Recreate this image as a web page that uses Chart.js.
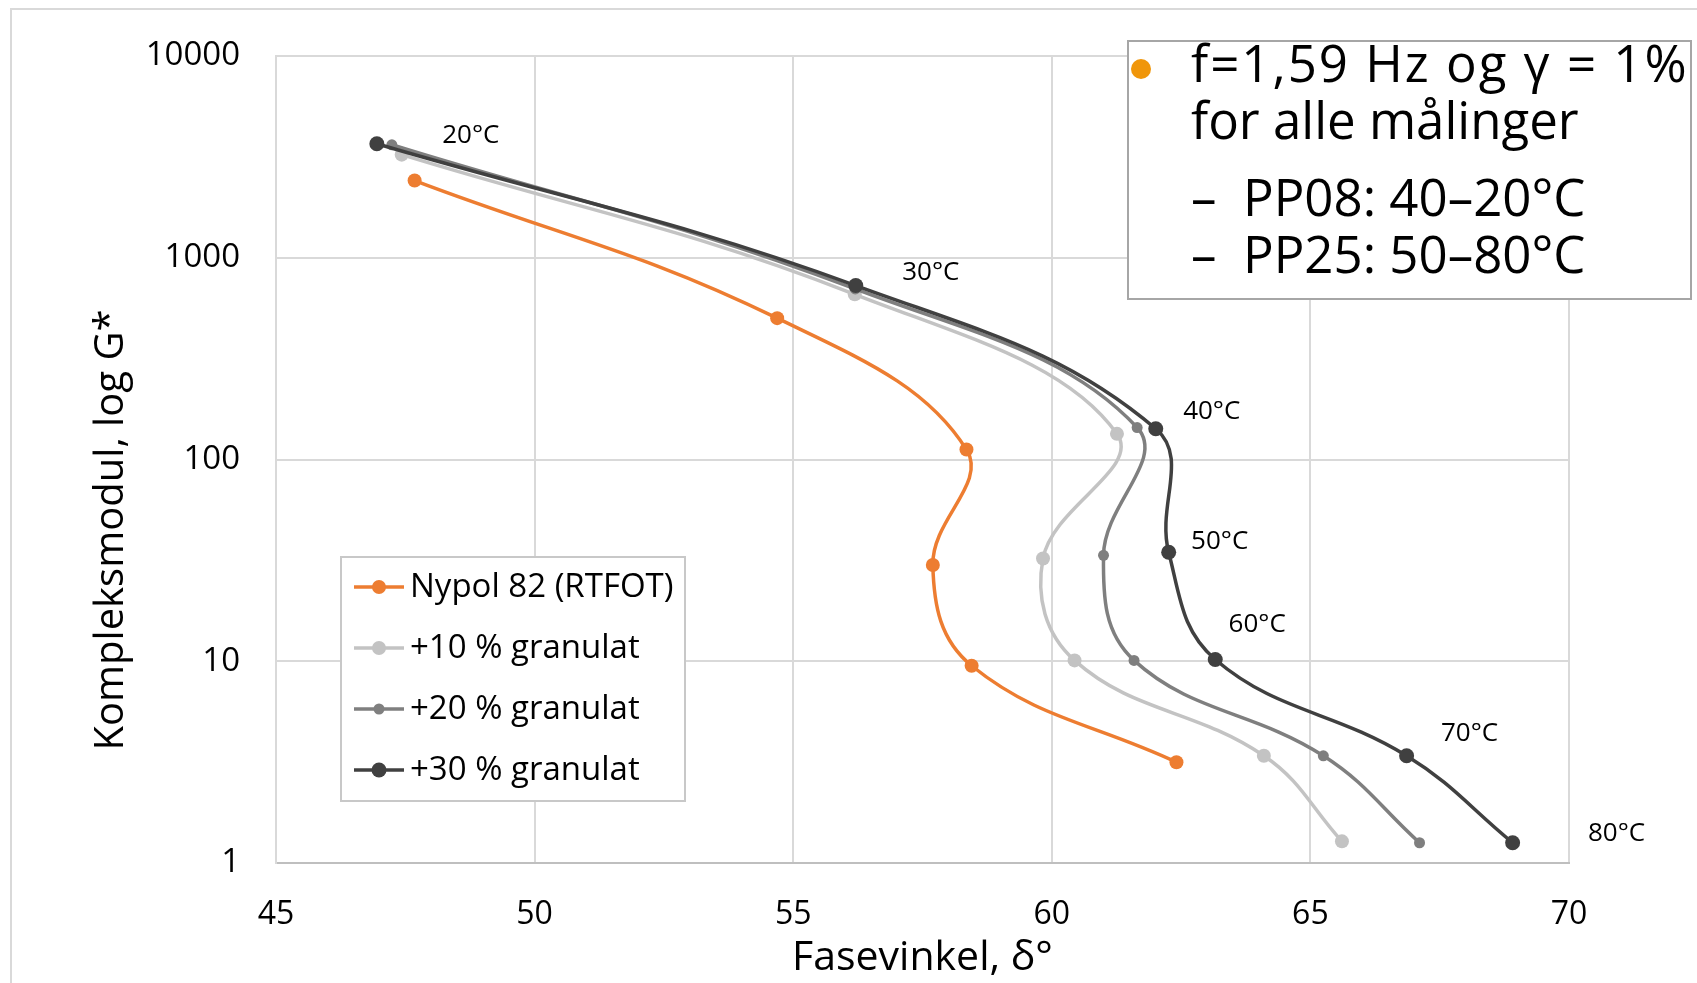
<!DOCTYPE html>
<html>
<head>
<meta charset="utf-8">
<script src="https://cdn.jsdelivr.net/npm/chart.js@4.4.1/dist/chart.umd.min.js"></script>
<style>
html, body { margin: 0; padding: 0; background: #fff; }
#wrap { width: 1697px; height: 983px; position: relative; }
</style>
</head>
<body>
<div id="wrap"><canvas id="dsrChart" width="1697" height="983"></canvas></div>
<script>
// data (phase angle in degrees, |G*| on log scale)
var temperatures = ["20°C", "30°C", "40°C", "50°C", "60°C", "70°C", "80°C"];
var seriesNames = ["Nypol 82 (RTFOT)", "+10 % granulat", "+20 % granulat", "+30 % granulat"];

var phaseNypol   = [47.68, 54.69, 58.35, 57.70, 58.45, 62.41];
var modulusNypol = [2414, 502, 112, 30, 9.5, 3.16];

var phase10   = [47.43, 56.19, 61.26, 59.83, 60.44, 64.10, 65.61];
var modulus10 = [3243, 659, 134, 32.3, 10.1, 3.40, 1.28];

var phase20   = [47.24, 56.20, 61.65, 61.00, 61.59, 65.25, 67.11];
var modulus20 = [3631, 701, 144, 33.5, 10.1, 3.40, 1.26];

var phase30   = [46.95, 56.21, 62.01, 62.26, 63.16, 66.86, 68.91];
var modulus30 = [3673, 728, 142, 34.7, 10.2, 3.40, 1.26];

var xTicks = [45, 50, 55, 60, 65, 70];
var yTicks = [1, 10, 100, 1000, 10000];

var xTitle = "Fasevinkel, δ°";
var yTitle = "Kompleksmodul, log G*";
var noteLines = ["f=1,59 Hz og γ = 1%", "for alle målinger", "–  PP08: 40–20°C", "–  PP25: 50–80°C"];

function toPoints(xs, ys) {
    var pts = [];
    for (var i = 0; i < xs.length; i++) {
        pts.push({ x: xs[i], y: ys[i] });
    }
    return pts;
}

var colors = ["#ED7D31", "#C3C3C3", "#7F7F7F", "#404040"];
var radii = [7, 7, 5.5, 7.5];
var allX = [phaseNypol, phase10, phase20, phase30];
var allY = [modulusNypol, modulus10, modulus20, modulus30];

var datasets = [];
for (var s = 0; s < seriesNames.length; s++) {
    datasets.push({
        label: seriesNames[s],
        data: toPoints(allX[s], allY[s]),
        borderColor: colors[s],
        backgroundColor: colors[s],
        pointRadius: radii[s],
        pointBorderWidth: 0,
        borderWidth: 3.5,
        showLine: true,
        tension: 0.4,
        order: seriesNames.length - s
    });
}

var FONT = "'Open Sans', 'Liberation Sans', sans-serif";

// outer frame, y title, legend boxes and temperature labels
var decorPlugin = {
    id: "decor",
    beforeDraw: function (chart) {
        var ctx = chart.ctx;
        ctx.save();
        ctx.fillStyle = "#fff";
        ctx.fillRect(0, 0, chart.width, chart.height);
        ctx.strokeStyle = "#D9D9D9";
        ctx.lineWidth = 2;
        ctx.beginPath();
        ctx.moveTo(11, chart.height);
        ctx.lineTo(11, 9);
        ctx.lineTo(chart.width, 9);
        ctx.stroke();
        ctx.restore();
    },
    afterDraw: function (chart) {
        var ctx = chart.ctx;
        ctx.save();

        // y axis title (sits lower than the plot centre in the original)
        ctx.translate(112, 530);
        ctx.rotate(-Math.PI / 2);
        ctx.fillStyle = "#000";
        ctx.font = "40px " + FONT;
        ctx.textAlign = "center";
        ctx.textBaseline = "middle";
        ctx.fillText(yTitle, 0, 0);
        ctx.setTransform(1, 0, 0, 1, 0, 0);

        // temperature labels next to the +30 % series
        var offs = [[94, -8], [75, -13], [56, -17], [51, -11], [42, -35], [63, -22], [104, -9]];
        var pts = chart.getDatasetMeta(3).data;
        ctx.font = "26px " + FONT;
        for (var i = 0; i < temperatures.length; i++) {
            ctx.fillText(temperatures[i], pts[i].x + offs[i][0], pts[i].y + offs[i][1]);
        }

        // series legend (bottom left, inside the plot)
        ctx.fillStyle = "#fff";
        ctx.fillRect(341, 557, 344, 244);
        ctx.strokeStyle = "#C8C8C8";
        ctx.lineWidth = 2;
        ctx.strokeRect(341, 557, 344, 244);
        ctx.font = "33px " + FONT;
        ctx.textAlign = "left";
        var rowY = [587, 648, 709, 770];
        chart.data.datasets.forEach(function (ds, k) {
            ctx.strokeStyle = ds.borderColor;
            ctx.lineWidth = 3.5;
            ctx.beginPath();
            ctx.moveTo(354, rowY[k]);
            ctx.lineTo(404, rowY[k]);
            ctx.stroke();
            ctx.fillStyle = ds.backgroundColor;
            ctx.beginPath();
            ctx.arc(379, rowY[k], ds.pointRadius, 0, Math.PI * 2);
            ctx.fill();
            ctx.fillStyle = "#000";
            ctx.fillText(ds.label, 410, rowY[k] + 1);
        });

        // measurement note (top right)
        ctx.fillStyle = "#fff";
        ctx.fillRect(1128, 41, 563, 258);
        ctx.strokeStyle = "#A6A6A6";
        ctx.lineWidth = 2;
        ctx.strokeRect(1128, 41, 563, 258);
        ctx.fillStyle = "#F0960A";
        ctx.beginPath();
        ctx.arc(1141, 69, 10, 0, Math.PI * 2);
        ctx.fill();
        ctx.fillStyle = "#000";
        ctx.font = "51px " + FONT;
        var noteY = [67, 124, 201, 258];
        for (var n = 0; n < noteLines.length; n++) {
            ctx.letterSpacing = n === 0 ? "2px" : "0px";
            ctx.fillText(noteLines[n], 1191, noteY[n]);
        }
        ctx.letterSpacing = "0px";
        ctx.restore();
    }
};

var ctx = document.getElementById("dsrChart");
var myChart = new Chart(ctx, {
    type: "scatter",
    data: { datasets: datasets },
    options: {
        responsive: false,
        animation: false,
        devicePixelRatio: 1,
        layout: { padding: { top: 56, right: 128, left: 0, bottom: 0 } },
        plugins: {
            legend: { display: false },
            tooltip: { enabled: false }
        },
        scales: {
            x: {
                type: "linear",
                min: 45,
                max: 70,
                afterFit: function (scale) { scale.height = 120; },
                afterBuildTicks: function (scale) {
                    scale.ticks = xTicks.map(function (v) { return { value: v }; });
                },
                ticks: {
                    color: "#000",
                    padding: 33,
                    font: { family: FONT, size: 32 }
                },
                grid: { color: "#D9D9D9", lineWidth: 2, drawTicks: false },
                border: { color: "#BFBFBF", width: 2 },
                title: {
                    display: true,
                    text: xTitle,
                    color: "#000",
                    font: { family: FONT, size: 41 },
                    padding: { top: 0, bottom: 0 }
                }
            },
            y: {
                type: "logarithmic",
                min: 1,
                max: 10000,
                afterFit: function (scale) { scale.width = 276; },
                afterBuildTicks: function (scale) {
                    scale.ticks = yTicks.map(function (v) { return { value: v }; });
                },
                ticks: {
                    color: "#000",
                    padding: 36,
                    font: { family: FONT, size: 33 },
                    callback: function (v) { return String(v); }
                },
                grid: { color: "#D9D9D9", lineWidth: 2, drawTicks: false },
                border: { color: "#D9D9D9", width: 2 },
                title: { display: false }
            }
        }
    },
    plugins: [decorPlugin]
});
</script>
</body>
</html>
